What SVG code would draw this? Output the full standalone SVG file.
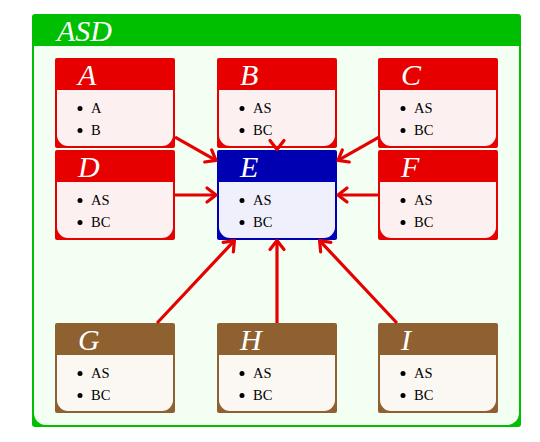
<svg xmlns="http://www.w3.org/2000/svg" width="540" height="442" viewBox="0 0 540 442">
<defs>
<style>
.ttl{font-family:"Liberation Serif",serif;font-style:italic;font-size:30px;fill:#ffffff}
.itm{font-family:"Liberation Serif",serif;font-size:14.5px;fill:#000000}
.red .frm{fill:#e60000}.red .bdy{fill:#fdf0f0}
.blue .frm{fill:#0000b3}.blue .bdy{fill:#f0f0fc}
.brown .frm{fill:#8f6030}.brown .bdy{fill:#fbf7f3}
.conn{stroke:#e60000;stroke-width:3.2;fill:none;marker-end:url(#ah)}
</style>
<marker id="ah" markerUnits="userSpaceOnUse" markerWidth="24" markerHeight="24" viewBox="-12 -12 24 24" refX="0" refY="0" orient="auto" overflow="visible">
<path d="M-9,-7 L0,0 L-9,7" fill="none" stroke="#e60000" stroke-width="3.2" stroke-linecap="round" stroke-linejoin="round"/>
</marker>
</defs>
<rect width="540" height="442" fill="#ffffff"/>
<g id="outer">
<rect x="32" y="14" width="489" height="413" rx="3" fill="#00bf00"/>
<path d="M34,46 H519 V413 A12,12 0 0 1 507,425 H46 A12,12 0 0 1 34,413 Z" fill="#f2fff2"/>
<text class="ttl" x="57" y="41">ASD</text>
</g>
<g id="nodeA" class="red" transform="translate(55,58)">
<rect class="frm" width="120" height="90" rx="2"/>
<path class="bdy" d="M2,32 H118 V77 A11,11 0 0 1 107,88 H13 A11,11 0 0 1 2,77 Z"/>
<text class="ttl" x="23" y="27">A</text>
<circle cx="25" cy="50.5" r="2.5"/><text class="itm" x="36" y="55">A</text>
<circle cx="25" cy="72.5" r="2.5"/><text class="itm" x="36" y="77">B</text>
</g>
<g id="nodeB" class="red" transform="translate(217,58)">
<rect class="frm" width="120" height="90" rx="2"/>
<path class="bdy" d="M2,32 H118 V77 A11,11 0 0 1 107,88 H13 A11,11 0 0 1 2,77 Z"/>
<text class="ttl" x="23" y="27">B</text>
<circle cx="25" cy="50.5" r="2.5"/><text class="itm" x="36" y="55">AS</text>
<circle cx="25" cy="72.5" r="2.5"/><text class="itm" x="36" y="77">BC</text>
</g>
<g id="nodeC" class="red" transform="translate(378,58)">
<rect class="frm" width="120" height="90" rx="2"/>
<path class="bdy" d="M2,32 H118 V77 A11,11 0 0 1 107,88 H13 A11,11 0 0 1 2,77 Z"/>
<text class="ttl" x="23" y="27">C</text>
<circle cx="25" cy="50.5" r="2.5"/><text class="itm" x="36" y="55">AS</text>
<circle cx="25" cy="72.5" r="2.5"/><text class="itm" x="36" y="77">BC</text>
</g>
<g id="nodeD" class="red" transform="translate(55,150)">
<rect class="frm" width="120" height="90" rx="2"/>
<path class="bdy" d="M2,32 H118 V77 A11,11 0 0 1 107,88 H13 A11,11 0 0 1 2,77 Z"/>
<text class="ttl" x="23" y="27">D</text>
<circle cx="25" cy="50.5" r="2.5"/><text class="itm" x="36" y="55">AS</text>
<circle cx="25" cy="72.5" r="2.5"/><text class="itm" x="36" y="77">BC</text>
</g>
<g id="nodeE" class="blue" transform="translate(217,150)">
<rect class="frm" width="120" height="90" rx="2"/>
<path class="bdy" d="M2,32 H118 V77 A11,11 0 0 1 107,88 H13 A11,11 0 0 1 2,77 Z"/>
<text class="ttl" x="23" y="27">E</text>
<circle cx="25" cy="50.5" r="2.5"/><text class="itm" x="36" y="55">AS</text>
<circle cx="25" cy="72.5" r="2.5"/><text class="itm" x="36" y="77">BC</text>
</g>
<g id="nodeF" class="red" transform="translate(378,150)">
<rect class="frm" width="120" height="90" rx="2"/>
<path class="bdy" d="M2,32 H118 V77 A11,11 0 0 1 107,88 H13 A11,11 0 0 1 2,77 Z"/>
<text class="ttl" x="23" y="27">F</text>
<circle cx="25" cy="50.5" r="2.5"/><text class="itm" x="36" y="55">AS</text>
<circle cx="25" cy="72.5" r="2.5"/><text class="itm" x="36" y="77">BC</text>
</g>
<g id="nodeG" class="brown" transform="translate(55,323)">
<rect class="frm" width="120" height="90" rx="2"/>
<path class="bdy" d="M2,32 H118 V77 A11,11 0 0 1 107,88 H13 A11,11 0 0 1 2,77 Z"/>
<text class="ttl" x="23" y="27">G</text>
<circle cx="25" cy="50.5" r="2.5"/><text class="itm" x="36" y="55">AS</text>
<circle cx="25" cy="72.5" r="2.5"/><text class="itm" x="36" y="77">BC</text>
</g>
<g id="nodeH" class="brown" transform="translate(217,323)">
<rect class="frm" width="120" height="90" rx="2"/>
<path class="bdy" d="M2,32 H118 V77 A11,11 0 0 1 107,88 H13 A11,11 0 0 1 2,77 Z"/>
<text class="ttl" x="23" y="27">H</text>
<circle cx="25" cy="50.5" r="2.5"/><text class="itm" x="36" y="55">AS</text>
<circle cx="25" cy="72.5" r="2.5"/><text class="itm" x="36" y="77">BC</text>
</g>
<g id="nodeI" class="brown" transform="translate(378,323)">
<rect class="frm" width="120" height="90" rx="2"/>
<path class="bdy" d="M2,32 H118 V77 A11,11 0 0 1 107,88 H13 A11,11 0 0 1 2,77 Z"/>
<text class="ttl" x="23" y="27">I</text>
<circle cx="25" cy="50.5" r="2.5"/><text class="itm" x="36" y="55">AS</text>
<circle cx="25" cy="72.5" r="2.5"/><text class="itm" x="36" y="77">BC</text>
</g>
<g id="connectors">
<path class="conn" d="M175,137.1 L216,160.4"/>
<path class="conn" d="M379,137.1 L338,160.4"/>
<path class="conn" d="M175,195 L216,195"/>
<path class="conn" d="M379,195 L338,195"/>
<path class="conn" d="M277,147.5 L277,149.5"/>
<path class="conn" d="M157.1,323 L234.4,240.6"/>
<path class="conn" d="M277,323 L277,240.6"/>
<path class="conn" d="M396.9,323 L319.6,240.6"/>
</g>
</svg>
